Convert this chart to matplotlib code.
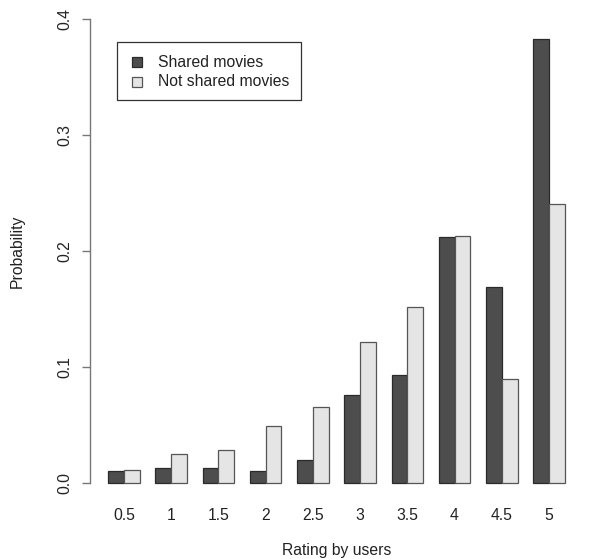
import numpy as np
import matplotlib
matplotlib.use("Agg")
import matplotlib.pyplot as plt
from matplotlib.patches import Rectangle

plt.rcParams['font.family'] = ['Liberation Sans', 'DejaVu Sans']

ratings = ['0.5', '1', '1.5', '2', '2.5', '3', '3.5', '4', '4.5', '5']
shared = [0.0105, 0.0135, 0.0135, 0.0105, 0.020, 0.0765, 0.0935, 0.2125, 0.1695, 0.383]
not_shared = [0.012, 0.025, 0.0288, 0.0495, 0.066, 0.122, 0.152, 0.2135, 0.090, 0.2405]
series_names = ['Shared movies', 'Not shared movies']

dark = '#4d4d4d'
light = '#e5e5e5'
fs = 11.3
txt = '#222222'

W, H = 595, 559
fig = plt.figure(figsize=(W / 100, H / 100), dpi=100)
# plot region in pixels (R style)
left, right, top, bottom = 90, 583, 0.7, 502
ax = fig.add_axes([left / W, 1 - bottom / H, (right - left) / W, (bottom - top) / H])


def px(x, y):
    return x / W, 1 - y / H


# R barplot beside=TRUE: groups of 2 bars, a gap of 1 bar between groups
idx = np.arange(len(ratings))
x_dark = 1 + 3 * idx
x_light = 2 + 3 * idx
ax.bar(x_dark, shared, width=1, align='edge', color=dark, edgecolor='#2a2a2a', linewidth=0.9)
ax.bar(x_light, not_shared, width=1, align='edge', color=light, edgecolor='#555555', linewidth=0.9)

ax.set_xlim(-0.16, 31.16)
ax.set_ylim(-0.016, 0.416)

for s in ['top', 'right', 'bottom']:
    ax.spines[s].set_visible(False)
ax.spines['left'].set_bounds(0, 0.4)
ax.spines['left'].set_color('#777777')
ax.spines['left'].set_linewidth(1.0)

ax.set_yticks([0.0, 0.1, 0.2, 0.3, 0.4])
ax.set_yticklabels(['0.0', '0.1', '0.2', '0.3', '0.4'], rotation=90, va='center')
ax.tick_params(axis='y', length=6, width=1.0, color='#777777', pad=7, labelsize=fs, labelcolor=txt)

ax.set_xticks(x_light)
ax.set_xticklabels(ratings)
ax.tick_params(axis='x', length=0, pad=4, labelsize=fs, labelcolor=txt)

ax.set_xlabel('Rating by users', fontsize=fs, color=txt, labelpad=15)
ax.set_ylabel('Probability', fontsize=fs, color=txt)
ax.yaxis.set_label_coords((25 - left) / (right - left), 0.5)

# legend drawn R-style
x0, y0 = px(117, 100)
x1, y1 = px(301, 42)
fig.patches.append(Rectangle((x0, y0), x1 - x0, y1 - y0, transform=fig.transFigure,
                             facecolor='white', edgecolor='#333333', linewidth=0.9))
for name, col, ec, yc in [(series_names[0], dark, '#2a2a2a', 62), (series_names[1], light, '#555555', 82)]:
    sx, sy = px(132, yc + 5)
    sw, sh = 10 / W, 10 / H
    fig.patches.append(Rectangle((sx, sy), sw, sh, transform=fig.transFigure,
                                 facecolor=col, edgecolor=ec, linewidth=0.9))
    tx, ty = px(158, yc)
    fig.text(tx, ty, name, fontsize=fs, color=txt, va='center', ha='left')

fig.savefig('out.png', dpi=100)
